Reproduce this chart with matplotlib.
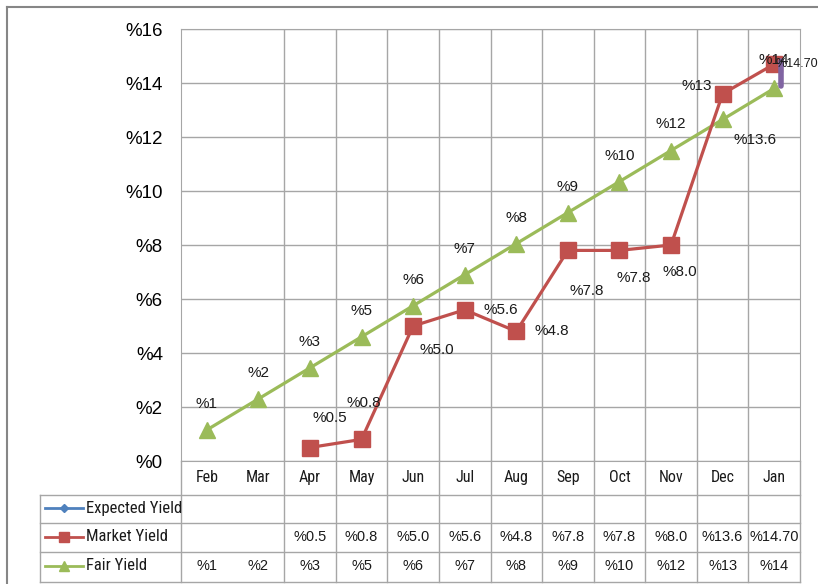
import matplotlib
matplotlib.use("Agg")
import matplotlib.pyplot as plt
from matplotlib.lines import Line2D
import matplotlib.font_manager as fm

# chart data
months = ['Feb', 'Mar', 'Apr', 'May', 'Jun', 'Jul', 'Aug', 'Sep', 'Oct', 'Nov', 'Dec', 'Jan']
fair_yield = [1.15, 2.3, 3.45, 4.6, 5.75, 6.9, 8.05, 9.2, 10.35, 11.5, 12.65, 13.8]
market_months = ['Apr', 'May', 'Jun', 'Jul', 'Aug', 'Sep', 'Oct', 'Nov', 'Dec', 'Jan']
market_yield = [0.5, 0.8, 5.0, 5.6, 4.8, 7.8, 7.8, 8.0, 13.6, 14.7]
market_labels = ['%0.5', '%0.8', '%5.0', '%5.6', '%4.8', '%7.8', '%7.8', '%8.0', '%13.6', '%14.70']
fair_labels = ['%1', '%2', '%3', '%5', '%6', '%7', '%8', '%9', '%10', '%12', '%13', '%14']
expected_jan = [13.9, 14.8]
yticks = [0, 2, 4, 6, 8, 10, 12, 14, 16]
series_names = ['Expected Yield', 'Market Yield', 'Fair Yield']

# label offsets in pixels (placed by hand in the original)
fair_off = [(0, 26)] * 10 + [(-26, 33), (0, 28)]
market_off = [(20, 29), (2, 36), (24, -24), (36, 0), (36, 0), (19, -41),
              (14, -28), (9, -27), (32, -46), (1, 0)]

RED = '#C0504D'
GREEN = '#9BBB59'
BLUE = '#4F81BD'
PURPLE = '#8064A2'
GRID = '#A6A6A6'
TXT = '#1a1a1a'

# narrow font for the category / legend text, if one is around
names = {f.name for f in fm.fontManager.ttflist}
narrow = dict(family='DejaVu Sans', fontstretch='condensed')
for cand in ['Liberation Sans Narrow', 'Roboto Condensed', 'Open Sans Condensed']:
    if cand in names:
        narrow = dict(family=cand)
        break
num_font = 'Liberation Sans'

W, H = 818, 584
fig = plt.figure(figsize=(W / 100, H / 100), dpi=100)

# plot area in pixels
L, R, T, B = 181, 800, 29, 461
ax = fig.add_axes([L / W, 1 - B / H, (R - L) / W, (B - T) / H])
ax.set_xlim(-0.5, len(months) - 0.5)
ax.set_ylim(0, 16)
x_all = list(range(len(months)))
xm = [months.index(m) for m in market_months]

# grid
for y in yticks:
    ax.axhline(y, color=GRID, lw=1, zorder=0)
for k in range(1, len(months) - 1):
    ax.axvline(k + 0.5, color=GRID, lw=1, zorder=0)
for s in ax.spines.values():
    s.set_color(GRID)
ax.set_xticks([])
ax.set_yticks(yticks)
ax.set_yticklabels(['%' + str(v) for v in yticks], fontsize=13.5, family=num_font)
ax.tick_params(axis='y', length=0, pad=13)

ax.plot(x_all, fair_yield, color=GREEN, lw=2.3, marker='^', ms=11, zorder=3)
ax.plot(xm, market_yield, color=RED, lw=2.3, marker='s', ms=11, zorder=4)
ax.plot([11.13, 11.13], expected_jan, color=PURPLE, lw=4, zorder=5, solid_capstyle='round')

for x, y, lab, off in zip(x_all, fair_yield, fair_labels, fair_off):
    ax.annotate(lab, (x, y), xytext=off, textcoords='offset pixels', ha='center',
                va='center', fontsize=11, family=num_font, color=TXT, zorder=6)
for i, (x, y, lab, off) in enumerate(zip(xm, market_yield, market_labels, market_off)):
    last = i == len(xm) - 1
    ax.annotate(lab, (x, y), xytext=off, textcoords='offset pixels',
                ha='left' if last else 'center', va='center',
                fontsize=9 if last else 11, family=num_font, color=TXT, zorder=6,
                annotation_clip=False)

# data table below the plot
TL, TB = 40, 582
col_w = (R - L) / len(months)
x0 = -0.5 - (L - TL) / col_w
tab = fig.add_axes([TL / W, 1 - TB / H, (R - TL) / W, (TB - B) / H])
tab.set_xlim(x0, len(months) - 0.5)
tab.set_ylim(TB, B)
tab.axis('off')

def px(p):
    return x0 + (p - TL) / col_w

rows = [495, 523, 552, 582]
for r in rows:
    tab.plot([x0, len(months) - 0.5], [r, r], color=GRID, lw=1, clip_on=False)
tab.plot([x0, x0], [rows[0], rows[-1]], color=GRID, lw=1, clip_on=False)
for k in [-1] + list(range(1, len(months))):
    tab.plot([k + 0.5, k + 0.5], [B, TB], color=GRID, lw=1, clip_on=False)

for i, m in enumerate(months):
    tab.text(i, 478, m, ha='center', va='center', fontsize=11.5, color=TXT, **narrow)

row_y = [508, 537, 566]
colors = [BLUE, RED, GREEN]
markers = ['D', 's', '^']
msizes = [4, 7, 7]
for name, yy, c, mk, ms in zip(series_names, row_y, colors, markers, msizes):
    tab.plot([px(45), px(83)], [yy, yy], color=c, lw=2, clip_on=False)
    tab.plot([px(64)], [yy], color=c, marker=mk, ms=ms, clip_on=False)
    tab.text(px(86), yy, name, ha='left', va='center', fontsize=12, color=TXT, **narrow)

for x, lab in zip(xm, market_labels):
    tab.text(x, row_y[1], lab, ha='center', va='center', fontsize=10.5, family=num_font, color=TXT)
for x, lab in zip(x_all, fair_labels):
    tab.text(x, row_y[2], lab, ha='center', va='center', fontsize=10.5, family=num_font, color=TXT)

# outer chart frame
fig.add_artist(Line2D([7 / W, 7 / W], [0, 1 - 7 / H], color='#868686', lw=1.5))
fig.add_artist(Line2D([7 / W, 1], [1 - 7 / H, 1 - 7 / H], color='#868686', lw=1.5))

fig.savefig('out.png', dpi=100)
